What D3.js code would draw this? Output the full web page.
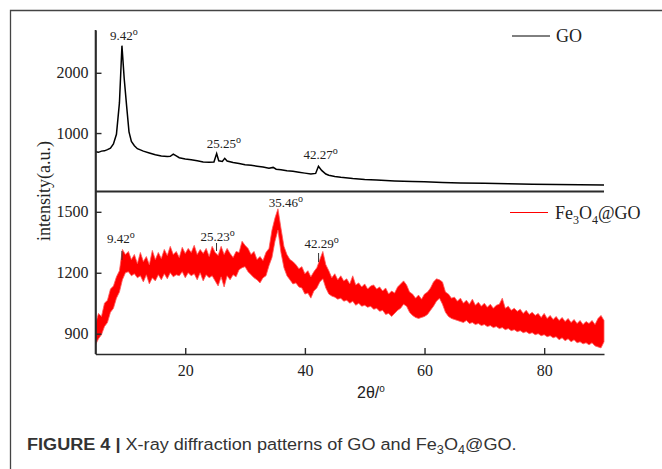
<!DOCTYPE html>
<html><head><meta charset="utf-8">
<script src="https://cdn.jsdelivr.net/npm/d3@7"></script>
<style>html,body{margin:0;padding:0;background:#fff;}svg{display:block;}</style>
</head><body>
<svg id="chart" width="662" height="469"></svg>
<script>
// ---- data ----
const goX = [5,5.5,6,6.5,7,7.5,8,8.5,9,9.42,9.8,10.2,10.6,11,11.5,12,12.5,13,14,15,16,17,17.5,18,18.5,19,20,21,22,23,24,24.8,25.25,25.6,26.2,26.6,27,28,29,30,31,32,33,34,34.7,35.2,36,37,38,39,40,41,41.8,42.27,42.8,43.5,44,45,46,48,50,52,55,58,60,63,66,70,74,78,82,86,90];
const goY = [690,680,700,705,725,750,820,980,1500,2450,1900,1450,1020,860,790,740,720,700,670,640,620,610,615,650,620,590,570,555,540,520,515,520,660,540,530,580,535,510,495,475,465,450,435,415,430,400,390,375,365,350,335,320,330,450,380,320,300,280,265,245,230,220,205,195,190,180,172,165,158,150,145,140,138];

const feX = [5,5.5,6,6.5,7,7.5,8,8.5,9,9.5,
  10,10.5,11,11.5,12,12.5,13,13.5,14,14.5,
  15,15.5,16,16.5,17,17.5,18,18.5,19,19.5,
  20,20.5,21,21.5,22,22.5,23,23.5,24,24.5,
  25,25.5,26,26.5,27,27.5,28,28.5,29,29.5,
  30,30.5,31,31.5,32,32.5,33,33.5,34,34.5,
  35,35.5,36,36.5,37,37.5,38,38.5,39,39.5,
  40,40.5,41,41.5,42,42.5,43,43.5,44,44.5,
  45,45.5,46,46.5,47,47.5,48,48.5,49,49.5,
  50,50.5,51,51.5,52,52.5,53,53.5,54,54.5,
  55,55.5,56,56.5,57,57.5,58,58.5,59,59.5,
  60,60.5,61,61.5,62,62.5,63,63.5,64,64.5,
  65,65.5,66,66.5,67,67.5,68,68.5,69,69.5,
  70,70.5,71,71.5,72,72.5,73,73.5,74,74.5,
  75,75.5,76,76.5,77,77.5,78,78.5,79,79.5,
  80,80.5,81,81.5,82,82.5,83,83.5,84,84.5,
  85,85.5,86,86.5,87,87.5,88,88.5,89,89.5,90];
const feHigh = [950,1000,985,1050,1065,1120,1135,1180,1210,1315,
  1290,1305,1265,1290,1245,1300,1255,1280,1240,1310,
  1265,1300,1270,1315,1285,1330,1290,1305,1275,1325,
  1295,1320,1300,1335,1290,1315,1295,1320,1280,1330,
  1300,1285,1330,1290,1320,1295,1275,1305,1300,1355,
  1335,1320,1290,1305,1265,1280,1260,1300,1320,1410,
  1470,1515,1420,1330,1290,1265,1255,1240,1220,1230,
  1195,1210,1180,1205,1225,1265,1305,1240,1210,1175,
  1195,1165,1185,1160,1170,1145,1185,1140,1150,1130,
  1145,1120,1135,1140,1120,1130,1110,1125,1095,1110,
  1100,1130,1145,1160,1140,1105,1095,1075,1090,1070,
  1095,1105,1125,1155,1170,1165,1155,1105,1095,1075,
  1080,1060,1075,1050,1065,1045,1070,1040,1055,1035,
  1050,1030,1045,1025,1040,1045,1075,1025,1035,1015,
  1025,1010,1020,1000,1015,995,1005,990,1000,980,
  1000,975,990,970,985,965,980,960,975,955,
  970,950,965,945,960,950,965,945,975,990,965];
const feLow = [845,875,895,935,955,1005,1025,1075,1105,1165,
  1200,1205,1185,1195,1175,1185,1155,1190,1145,1175,
  1160,1190,1165,1195,1170,1200,1180,1190,1185,1205,
  1175,1200,1185,1195,1165,1200,1160,1190,1175,1185,
  1160,1135,1180,1130,1185,1165,1190,1180,1215,1225,
  1230,1205,1190,1175,1165,1150,1175,1185,1235,1275,
  1355,1410,1300,1225,1185,1165,1145,1150,1130,1125,
  1095,1100,1075,1110,1125,1155,1170,1125,1095,1085,
  1080,1070,1075,1060,1065,1050,1060,1040,1050,1035,
  1040,1030,1035,1020,1025,1010,1015,995,1000,985,
  1000,1015,1025,1045,1035,1005,990,980,975,980,
  985,995,1015,1035,1060,1075,1045,1005,985,975,
  970,965,960,955,965,950,955,945,950,940,
  945,935,940,930,935,925,930,920,925,915,
  920,910,915,905,910,900,905,895,900,890,
  895,885,890,880,885,870,880,865,875,860,
  870,855,860,850,855,845,855,840,835,830,860];

const xTicks = [20,40,60,80];
const goYTicks = [1000,2000];
const feYTicks = [900,1200,1500];
const goPeaks = ["9.42","25.25","42.27"];
const fePeaks = ["9.42","25.23","35.46","42.29"];
const seriesNames = ["GO","Fe3O4@GO"];

// ---- layout ----
const svg = d3.select("#chart");
const L = 95.5, R = 604, topT = 30, mid = 191.5, bot = 354;
const serif = "'Liberation Serif','Times New Roman',serif";
const axisColor = "#2b2b2b";

const x = d3.scaleLinear().domain([5, 90]).range([L, R]);
const yGo = d3.scaleLinear().domain([30, 2710]).range([mid, topT]);
const yFe = d3.scaleLinear().domain([800, 1600]).range([bot, mid]);

// outer frame
svg.append("path").attr("d", "M10.5,469 L10.5,10.5 L662,10.5")
  .attr("fill", "none").attr("stroke", "#444").attr("stroke-width", 1.3);

// series
const feArea = d3.area().x((d, i) => x(feX[i])).y0((d, i) => yFe(feLow[i])).y1((d, i) => yFe(feHigh[i]));
svg.append("path").datum(feX).attr("d", feArea).attr("fill", "#ff0000").attr("stroke", "#ff5a5a").attr("stroke-width", 0.8);

const goLine = d3.line().x((d, i) => x(goX[i])).y((d, i) => yGo(goY[i]));
svg.append("path").datum(goX).attr("d", goLine).attr("fill", "none").attr("stroke", "#000").attr("stroke-width", 1.5);

// axes
const fmt = d3.format("d");
const gx = svg.append("g").attr("transform", `translate(0,${bot})`)
  .call(d3.axisBottom(x).tickValues(xTicks).tickFormat(fmt).tickSizeInner(-6).tickSizeOuter(0).tickPadding(11));
const gyGo = svg.append("g").attr("transform", `translate(${L},0)`)
  .call(d3.axisLeft(yGo).tickValues(goYTicks).tickFormat(fmt).tickSizeInner(-6).tickSizeOuter(0).tickPadding(7));
const gyFe = svg.append("g").attr("transform", `translate(${L},0)`)
  .call(d3.axisLeft(yFe).tickValues(feYTicks).tickFormat(fmt).tickSizeInner(-6).tickSizeOuter(0).tickPadding(7));
[gx, gyGo, gyFe].forEach(g => {
  g.attr("font-size", null).attr("font-family", null);
  g.select(".domain").attr("stroke", axisColor).attr("stroke-width", 1.6);
  g.selectAll(".tick line").attr("stroke", axisColor).attr("stroke-width", 1.4);
  g.selectAll(".tick text").style("font-family", serif).style("font-size", "16px").attr("fill", "#222");
});
gx.selectAll(".tick text").attr("dy", "0.71em");
// panel divider and full left axis
svg.append("line").attr("x1", L).attr("x2", R).attr("y1", mid).attr("y2", mid)
  .attr("stroke", axisColor).attr("stroke-width", 2);
svg.append("line").attr("x1", L).attr("x2", L).attr("y1", topT).attr("y2", bot)
  .attr("stroke", axisColor).attr("stroke-width", 1.6);

// peak labels
function degLabel(xp, yp, txt) {
  const t = svg.append("text").attr("x", xp).attr("y", yp).attr("font-family", serif)
    .attr("font-size", 13).attr("fill", "#222");
  t.append("tspan").text(txt);
  t.append("tspan").attr("dy", -5).attr("font-size", 10).text("o");
}
const goLabDx = [-12, -10, -15], goLabY = [40, 148, 159];
goPeaks.forEach((p, i) => degLabel(x(+p) + goLabDx[i], goLabY[i], p));
const feLabDx = [-15, -16, -9, -14], feLabY = [243, 241, 207, 248];
fePeaks.forEach((p, i) => degLabel(x(+p) + feLabDx[i], feLabY[i], p));
const feTickY = [[251, 260], [243, 251], null, [253, 262]];
fePeaks.forEach((p, i) => {
  if (!feTickY[i]) return;
  svg.append("line").attr("x1", x(+p)).attr("x2", x(+p)).attr("y1", feTickY[i][0]).attr("y2", feTickY[i][1])
    .attr("stroke", "#333").attr("stroke-width", 1);
});

// legends
svg.append("line").attr("x1", 512).attr("x2", 550).attr("y1", 36).attr("y2", 36).attr("stroke", "#000").attr("stroke-width", 1);
svg.append("text").attr("x", 556).attr("y", 42).attr("font-family", serif).attr("font-size", 18).attr("fill", "#222").text(seriesNames[0]);
svg.append("line").attr("x1", 510).attr("x2", 548).attr("y1", 212.5).attr("y2", 212.5).attr("stroke", "#ff0000").attr("stroke-width", 1);
const lg2 = svg.append("text").attr("x", 555).attr("y", 219).attr("font-family", serif).attr("font-size", 18).attr("fill", "#222");
lg2.append("tspan").text("Fe");
lg2.append("tspan").attr("font-size", 12).attr("dy", 5).text("3");
lg2.append("tspan").attr("dy", -5).text("O");
lg2.append("tspan").attr("font-size", 12).attr("dy", 5).text("4");
lg2.append("tspan").attr("dy", -5).text("@GO");

// axis titles
svg.append("text").attr("transform", "translate(50,191) rotate(-90)").attr("text-anchor", "middle")
  .attr("font-family", serif).attr("font-size", 18).attr("fill", "#222").text("intensity(a.u.)");
const xt = svg.append("text").attr("x", 357).attr("y", 398).attr("font-family", "'Liberation Sans',Arial,sans-serif")
  .attr("font-size", 16).attr("fill", "#222");
xt.append("tspan").text("2θ/");
xt.append("tspan").attr("dy", -6).attr("font-size", 10).text("o");

// caption
const cap = svg.append("text").attr("x", 27).attr("y", 450).attr("font-family", "'Liberation Sans',Arial,sans-serif")
  .attr("font-size", 17).attr("fill", "#333");
cap.append("tspan").attr("font-weight", "bold").text("FIGURE 4 | ");
cap.append("tspan").text("X-ray diffraction patterns of GO and Fe");
cap.append("tspan").attr("font-size", 12).attr("dy", 4).text("3");
cap.append("tspan").attr("dy", -4).text("O");
cap.append("tspan").attr("font-size", 12).attr("dy", 4).text("4");
cap.append("tspan").attr("dy", -4).text("@GO.");
const bb = cap.node().getBBox();
const targetW = 490;
cap.attr("transform", `translate(27,0) scale(${targetW / bb.width},1) translate(-27,0)`);
</script>
</body></html>
